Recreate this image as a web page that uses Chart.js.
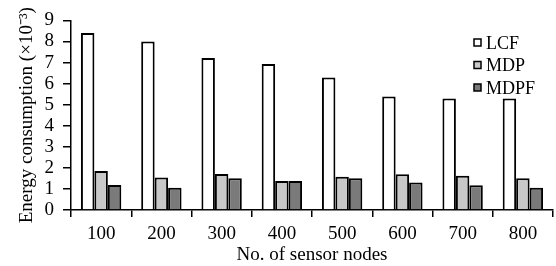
<!DOCTYPE html>
<html><head><meta charset="utf-8">
<script src="https://cdn.jsdelivr.net/npm/chart.js@4/dist/chart.umd.min.js"></script>
<style>html,body{margin:0;padding:0;background:#fff}#wrap{width:556px;height:266px}</style>
</head><body><div id="wrap"><canvas id="c"></canvas></div>
<script>
const categories = ['100','200','300','400','500','600','700','800'];
const lcf  = [8.40, 8.00, 7.21, 6.93, 6.29, 5.39, 5.29, 5.29];
const mdp  = [1.85, 1.54, 1.71, 1.38, 1.58, 1.70, 1.62, 1.51];
const mdpf = [1.19, 1.06, 1.51, 1.38, 1.51, 1.30, 1.17, 1.06];
const seriesNames = ['LCF','MDP','MDPF'];
const FONT = "'Liberation Serif','Times New Roman',serif";

const legendPlugin = {
  id: 'customLegend',
  afterDraw(chart) {
    const ctx = chart.ctx;
    ctx.save();
    const ys = [43, 65.5, 88];
    chart.data.datasets.forEach((ds, i) => {
      const y = ys[i];
      ctx.fillStyle = ds.backgroundColor;
      ctx.strokeStyle = '#000';
      ctx.lineWidth = 1.5;
      ctx.fillRect(474, y - 4, 7, 7);
      ctx.strokeRect(474, y - 4, 7, 7);
      ctx.fillStyle = '#000';
      ctx.font = "18px " + FONT;
      ctx.textBaseline = 'middle';
      ctx.fillText(ds.label, 486, y + 1);
    });
    ctx.restore();
  }
};

new Chart(document.getElementById('c'), {
  type: 'bar',
  data: {
    labels: categories,
    datasets: [
      {label: seriesNames[0], data: lcf, backgroundColor: '#ffffff'},
      {label: seriesNames[1], data: mdp, backgroundColor: '#c8c8c8'},
      {label: seriesNames[2], data: mdpf, backgroundColor: '#7a7a7a'}
    ].map(d => Object.assign(d, {borderColor: '#000', borderWidth: 2, categoryPercentage: 0.67, barPercentage: 1.0}))
  },
  options: {
    responsive: true, maintainAspectRatio: false, animation: false,
    layout: {padding: {top: 20, right: 3, left: 0, bottom: 0}},
    plugins: {legend: {display: false}, tooltip: {enabled: false}},
    scales: {
      x: {
        offset: true,
        grid: {drawOnChartArea: false, drawTicks: true, tickLength: 7, offset: true, color: '#000', lineWidth: 1.5},
        border: {display: true, color: '#000', width: 1.5},
        ticks: {color: '#000', font: {family: FONT, size: 19}, padding: 6, autoSkip: false, maxRotation: 0},
        title: {display: true, text: 'No. of sensor nodes', color: '#000', font: {family: FONT, size: 19}, padding: {top: 0, bottom: 0}},
        afterFit: s => { s.height = 56; }
      },
      y: {
        min: 0, max: 9,
        grid: {drawOnChartArea: false, drawTicks: true, tickLength: 8, color: '#000', lineWidth: 1.5},
        border: {display: true, color: '#000', width: 1.5},
        ticks: {stepSize: 1, color: '#000', font: {family: FONT, size: 19}, padding: 9, autoSkip: false},
        title: {display: true, text: 'Energy consumption (×10⁻³)', color: '#000', font: {family: FONT, size: 19}, padding: {top: 16, bottom: 0}},
        afterFit: s => { s.width = 71; }
      }
    }
  },
  plugins: [legendPlugin]
});
</script></body></html>
